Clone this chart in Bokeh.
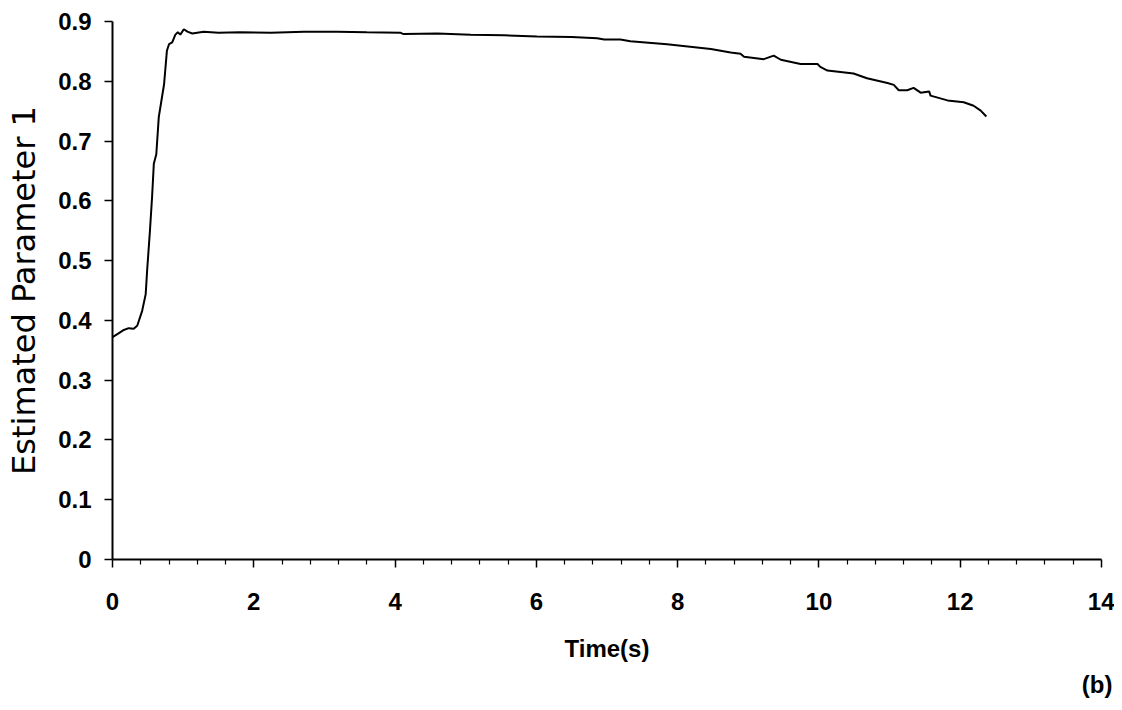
from bokeh.plotting import figure
from bokeh.models import Range1d, FixedTicker, Title
from bokeh.embed import file_html
from bokeh.resources import INLINE

# Data (time in s, estimated parameter 1)
time_s = [0.00, 0.08, 0.16, 0.23, 0.30, 0.35, 0.42, 0.47, 0.49, 0.53, 0.56, 0.585,
          0.62, 0.655, 0.73, 0.77, 0.80, 0.845, 0.89, 0.925, 0.96, 1.01, 1.06, 1.13,
          1.29, 1.5, 1.8, 2.24, 2.71, 3.18, 3.6, 4.08, 4.12, 4.6, 5.07, 5.54, 6.01,
          6.5, 6.86, 6.96, 7.19, 7.33, 7.85, 8.47, 8.75, 8.89, 8.94, 9.22, 9.36, 9.46,
          9.74, 9.98, 10.02, 10.12, 10.49, 10.68, 10.97, 11.06, 11.13, 11.25, 11.34,
          11.44, 11.56, 11.58, 11.82, 12.05, 12.19, 12.29, 12.37]
param1 = [0.372, 0.378, 0.384, 0.387, 0.386, 0.391, 0.416, 0.444, 0.483, 0.550, 0.606, 0.662,
          0.678, 0.740, 0.795, 0.851, 0.862, 0.865, 0.878, 0.882, 0.878, 0.887, 0.883, 0.880,
          0.883, 0.881, 0.882, 0.881, 0.883, 0.883, 0.882, 0.881, 0.879, 0.880, 0.878, 0.877, 0.875,
          0.874, 0.872, 0.870, 0.870, 0.867, 0.862, 0.854, 0.848, 0.846, 0.841, 0.837, 0.843, 0.836,
          0.829, 0.829, 0.824, 0.818, 0.813, 0.805, 0.797, 0.794, 0.785, 0.785, 0.789,
          0.781, 0.783, 0.776, 0.768, 0.765, 0.759, 0.751, 0.741]

x_ticks = [0, 2, 4, 6, 8, 10, 12, 14]
x_minor_ticks = [0.4, 0.8, 1.2, 1.6, 2.4, 2.8, 3.2, 3.6, 4.4, 4.8, 5.2, 5.6,
                 6.4, 6.8, 7.2, 7.6, 8.4, 8.8, 9.2, 9.6, 10.4, 10.8, 11.2, 11.6,
                 12.4, 12.8, 13.2, 13.6]
y_ticks = [0, 0.1, 0.2, 0.3, 0.4, 0.5, 0.6, 0.7, 0.8, 0.9]

p = figure(frame_width=989, frame_height=538, output_backend="svg", toolbar_location=None,
           x_range=Range1d(0, 14), y_range=Range1d(0, 0.9),
           min_border_left=112, min_border_right=13, min_border_top=21,
           min_border_bottom=140)
p.outline_line_color = None
p.xgrid.grid_line_color = None
p.ygrid.grid_line_color = None
p.background_fill_color = "white"

p.line(time_s, param1, line_color="black", line_width=2)

tick_font = "Liberation Sans"

xa = p.xaxis[0]
xa.ticker = FixedTicker(ticks=x_ticks, minor_ticks=x_minor_ticks)
xa.axis_line_width = 2
xa.axis_line_color = "black"
xa.major_tick_in = 0
xa.major_tick_out = 8
xa.minor_tick_in = 0
xa.minor_tick_out = 5
xa.major_tick_line_width = 1.5
xa.minor_tick_line_width = 1.2
xa.major_label_text_font = tick_font
xa.major_label_text_font_style = "bold"
xa.major_label_text_font_size = "24px"
xa.major_label_text_color = "black"
xa.major_label_standoff = 25
xa.axis_label = "Time(s)"
xa.axis_label_text_font = tick_font
xa.axis_label_text_font_style = "bold"
xa.axis_label_text_font_size = "24px"
xa.axis_label_text_color = "black"
xa.axis_label_standoff = 22

ya = p.yaxis[0]
ya.ticker = FixedTicker(ticks=y_ticks, minor_ticks=[])
ya.axis_line_width = 2
ya.axis_line_color = "black"
ya.major_tick_in = 0
ya.major_tick_out = 8
ya.major_tick_line_width = 1.5
ya.minor_tick_line_color = None
ya.major_label_overrides = {0: "0"}
ya.major_label_text_font = tick_font
ya.major_label_text_font_style = "bold"
ya.major_label_text_font_size = "24px"
ya.major_label_text_color = "black"
ya.major_label_standoff = 13
ya.axis_label = "Estimated Parameter 1"
ya.axis_label_text_font = "DejaVu Sans"
ya.axis_label_text_font_style = "normal"
ya.axis_label_text_font_size = "32px"
ya.axis_label_text_color = "black"
ya.axis_label_standoff = 12

p.add_layout(Title(text="(b)", align="right", text_font=tick_font,
                   text_font_style="bold", text_font_size="24px",
                   text_color="black", standoff=9, offset=-11), "below")

open("out.html", "w").write(file_html(p, INLINE))
